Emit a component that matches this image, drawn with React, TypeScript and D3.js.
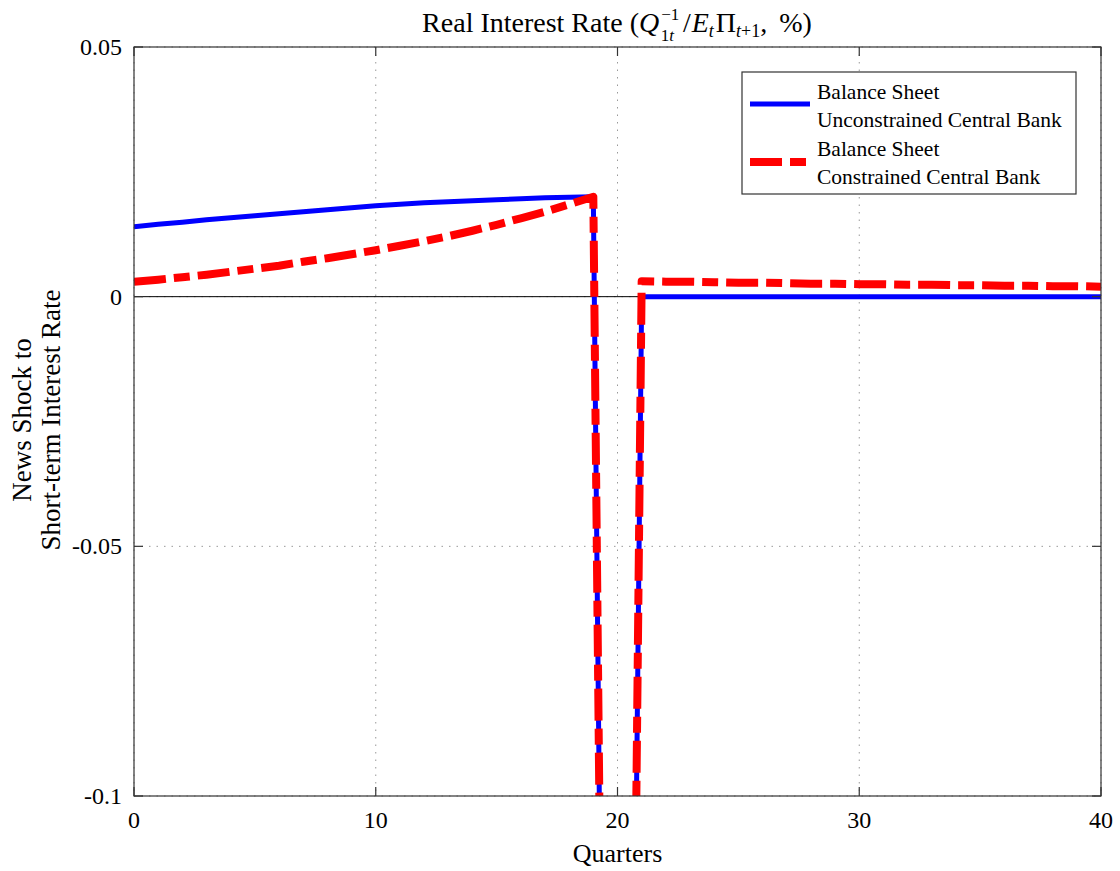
import React from "react";
import * as d3 from "d3";

const quarters = [0,1,2,3,4,5,6,7,8,9,10,11,12,13,14,15,16,17,18,19,20,21,22,23,24,25,26,27,28,29,30,31,32,33,34,35,36,37,38,39,40];

const unconstrained = [
  0.0140, 0.0145, 0.0149, 0.0154, 0.0158, 0.0162, 0.0166, 0.0170, 0.0174, 0.0178,
  0.0182, 0.0185, 0.0188, 0.0190, 0.0192, 0.0194, 0.0196, 0.0198, 0.0199, 0.0200,
  -0.465,
  0.0000, 0.0000, 0.0000, 0.0000, 0.0000, 0.0000, 0.0000, 0.0000, 0.0000, 0.0000,
  0.0000, 0.0000, 0.0000, 0.0000, 0.0000, 0.0000, 0.0000, 0.0000, 0.0000, 0.0000,
];

const constrained = [
  0.0030, 0.0034, 0.0039, 0.0044, 0.0050, 0.0056, 0.0062, 0.0070, 0.0077, 0.0085,
  0.0093, 0.0102, 0.0111, 0.0121, 0.0132, 0.0144, 0.0157, 0.0170, 0.0185, 0.0200,
  -0.465,
  0.0031, 0.0030, 0.0030, 0.0029, 0.0028, 0.0028, 0.0027, 0.0026, 0.0026, 0.0025,
  0.0025, 0.0024, 0.0024, 0.0023, 0.0023, 0.0022, 0.0022, 0.0021, 0.0021, 0.0020,
];

const xTicks = [0, 10, 20, 30, 40];
const xTickLabels = ["0", "10", "20", "30", "40"];
const yTicks = [0.05, 0, -0.05, -0.1];
const yTickLabels = ["0.05", "0", "-0.05", "-0.1"];

const seriesNames = [
  ["Balance Sheet", "Unconstrained Central Bank"],
  ["Balance Sheet", "Constrained Central Bank"],
];

const W = 1120;
const H = 871;
const L = 134, R = 1101, T = 47, B = 796;
const FONT = "'Liberation Serif', 'Times New Roman', serif";
const RED_DASH = "32,8,16,8";

export default function App() {
  const x = d3.scaleLinear().domain([0, 40]).range([L, R]);
  const y = d3.scaleLinear().domain([-0.1, 0.05]).range([B, T]);
  const line = d3
    .line<number>()
    .x((_, i) => x(quarters[i]))
    .y((d) => y(d));

  return (
    <svg
      width={W}
      height={H}
      style={{ position: "absolute", left: 0, top: 0, background: "#fff" }}
      fontFamily={FONT}
    >
      <defs>
        <clipPath id="plotClip">
          <rect x={L} y={T} width={R - L} height={B - T} />
        </clipPath>
      </defs>
      <rect x={0} y={0} width={W} height={H} fill="#fff" />

      {/* grid */}
      {xTicks.map((t) => (
        <line key={"gx" + t} x1={x(t)} x2={x(t)} y1={T} y2={B} stroke="#999" strokeWidth={1} strokeDasharray="1.5,6" />
      ))}
      {yTicks.map((t) => (
        <line key={"gy" + t} x1={L} x2={R} y1={y(t)} y2={y(t)} stroke="#999" strokeWidth={1} strokeDasharray="1.5,6" />
      ))}
      {/* zero line */}
      <line x1={L} x2={R} y1={y(0)} y2={y(0)} stroke="#000" strokeWidth={1} />

      {/* series */}
      <g clipPath="url(#plotClip)">
        <path d={line(unconstrained) || ""} fill="none" stroke="#0000ff" strokeWidth={5} strokeLinejoin="round" />
        <path
          d={line(constrained) || ""}
          fill="none"
          stroke="#ff0000"
          strokeWidth={8}
          strokeDasharray={RED_DASH}
          strokeLinejoin="round"
        />
      </g>

      {/* axes box */}
      <rect x={L} y={T} width={R - L} height={B - T} fill="none" stroke="#333" strokeWidth={1.2} />
      {xTicks.map((t) => (
        <g key={"tx" + t}>
          <line x1={x(t)} x2={x(t)} y1={B} y2={B - 9} stroke="#333" strokeWidth={1.2} />
          <line x1={x(t)} x2={x(t)} y1={T} y2={T + 9} stroke="#333" strokeWidth={1.2} />
        </g>
      ))}
      {yTicks.map((t) => (
        <g key={"ty" + t}>
          <line x1={L} x2={L + 9} y1={y(t)} y2={y(t)} stroke="#333" strokeWidth={1.2} />
          <line x1={R} x2={R - 9} y1={y(t)} y2={y(t)} stroke="#333" strokeWidth={1.2} />
        </g>
      ))}

      {/* tick labels */}
      {xTicks.map((t, i) => (
        <text key={"lx" + t} x={x(t)} y={828} textAnchor="middle" fontSize={24} fill="#000">
          {xTickLabels[i]}
        </text>
      ))}
      {yTicks.map((t, i) => (
        <text key={"ly" + t} x={122} y={y(t) + 8} textAnchor="end" fontSize={24} fill="#000">
          {yTickLabels[i]}
        </text>
      ))}

      {/* axis labels */}
      <text x={(L + R) / 2} y={862} textAnchor="middle" fontSize={26} fill="#000">
        Quarters
      </text>
      <text transform={`translate(31, 420) rotate(-90)`} textAnchor="middle" fontSize={27} fill="#000">
        <tspan x={0} y={0}>News Shock to</tspan>
        <tspan x={0} y={29}>Short-term Interest Rate</tspan>
      </text>

      {/* title */}
      <text x={617} y={32} textAnchor="middle" fontSize={28} fill="#000">
        Real Interest Rate (
        <tspan fontStyle="italic">Q</tspan>
        <tspan fontSize={17} dy={-12} dx={2}>−1</tspan>
        <tspan fontSize={17} dy={21} dx={-18}>1<tspan fontStyle="italic">t</tspan></tspan>
        <tspan dy={-9} dx={9}>/</tspan>
        <tspan fontStyle="italic" dx={1}>E</tspan>
        <tspan fontSize={18} fontStyle="italic" dy={5}>t</tspan>
        <tspan dy={-5} dx={2}>Π</tspan>
        <tspan fontSize={18} dy={5}><tspan fontStyle="italic">t</tspan>+1</tspan>
        <tspan dy={-5}>, </tspan>
        <tspan dx={5}>%)</tspan>
      </text>

      {/* legend */}
      <rect x={742} y={72} width={334} height={122} fill="#fff" stroke="#333" strokeWidth={1.2} />
      <line x1={750} x2={810} y1={104} y2={104} stroke="#0000ff" strokeWidth={5} />
      <line x1={750} x2={806} y1={162} y2={162} stroke="#ff0000" strokeWidth={8} strokeDasharray={RED_DASH} />
      {seriesNames.map((lines, si) =>
        lines.map((txt, li) => (
          <text key={`lg${si}-${li}`} x={817} y={99 + si * 57 + li * 28} fontSize={21.5} fill="#000">
            {txt}
          </text>
        ))
      )}
    </svg>
  );
}
